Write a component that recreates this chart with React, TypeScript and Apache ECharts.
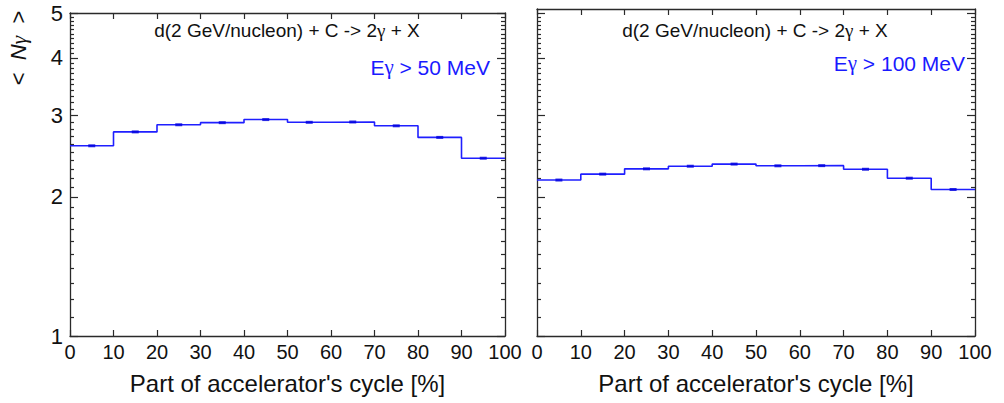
import React, { useEffect, useRef } from "react";
import * as echarts from "echarts";

// ---- data ----
const binEdges = [0, 10, 20, 30, 40, 50, 60, 70, 80, 90, 100];
const binCenters = [5, 15, 25, 35, 45, 55, 65, 75, 85, 95];
const nGammaE50 = [2.58, 2.765, 2.865, 2.895, 2.94, 2.9, 2.905, 2.85, 2.69, 2.425];
const nGammaE100 = [2.175, 2.24, 2.3, 2.33, 2.355, 2.335, 2.337, 2.295, 2.195, 2.075];
const xTickValues = [0, 10, 20, 30, 40, 50, 60, 70, 80, 90, 100];
const yMajorTicks = [1, 2, 3, 4, 5];
const yMinorTicks = [
  1.1, 1.2, 1.3, 1.4, 1.5, 1.6, 1.7, 1.8, 1.9,
  2.1, 2.2, 2.3, 2.4, 2.5, 2.6, 2.7, 2.8, 2.9,
  3.1, 3.2, 3.3, 3.4, 3.5, 3.6, 3.7, 3.8, 3.9,
  4.1, 4.2, 4.3, 4.4, 4.5, 4.6, 4.7, 4.8, 4.9,
];
// {g|γ} marks the Greek letter, drawn in a serif face as in the original
const panelTitles = ["d(2 GeV/nucleon) + C -> 2{g|γ} + X", "d(2 GeV/nucleon) + C -> 2{g|γ} + X"];
const panelCuts = ["E{g|γ} > 50 MeV", "E{g|γ} > 100 MeV"];
const xAxisTitle = "Part of accelerator's cycle [%]";
const yMin = 1;
const yMaxes = [5, 5.1];

const AXIS_COLOR = "#2a2a2a";
const LINE_COLOR = "#1f1fff";
const FONT = "'Liberation Sans', Arial, sans-serif";
const SERIF = "'Liberation Serif', 'DejaVu Serif', serif";

const lg = (v: number) => Math.log10(v);

export default function App() {
  const ref = useRef<HTMLDivElement>(null);
  useEffect(() => {
    if (!ref.current) return;
    const chart = echarts.init(ref.current, undefined, { renderer: "svg" });

    const grids = [
      { left: 70, top: 13, width: 435, height: 323 },
      { left: 537, top: 9, width: 438, height: 327 },
    ];
    const datasets = [nGammaE50, nGammaE100];

    const xAxes: any[] = [];
    const yAxes: any[] = [];
    const series: any[] = [];

    grids.forEach((g, gi) => {
      const baseX = {
        type: "value",
        gridIndex: gi,
        min: 0,
        max: 100,
        interval: 10,
        splitLine: { show: false },
        axisLine: { show: true, onZero: false, lineStyle: { color: AXIS_COLOR, width: 1.3 } },
        axisTick: { show: true, inside: true, length: 6, lineStyle: { color: AXIS_COLOR, width: 1.2 } },
      };
      xAxes.push({
        ...baseX,
        position: "bottom",
        axisLabel: {
          show: true,
          fontSize: 20,
          color: "#111",
          fontFamily: FONT,
          margin: 6,
          customValues: xTickValues,
        },
      });
      xAxes.push({ ...baseX, position: "top", axisLabel: { show: false } });

      const yMaxL = lg(yMaxes[gi]);
      const mkY = (pos: string, major: boolean, labels: boolean) => ({
        type: "value",
        gridIndex: gi,
        position: pos,
        min: lg(yMin),
        max: yMaxL,
        splitLine: { show: false },
        axisLine: { show: major, onZero: false, lineStyle: { color: AXIS_COLOR, width: 1.3 } },
        axisTick: {
          show: true,
          inside: true,
          length: major ? 8 : 4,
          customValues: (major ? yMajorTicks : yMinorTicks).map(lg),
          lineStyle: { color: AXIS_COLOR, width: 1.2 },
        },
        axisLabel: {
          show: labels,
          fontSize: 22,
          color: "#111",
          fontFamily: FONT,
          margin: 7,
          customValues: yMajorTicks.map(lg),
          formatter: (v: number) => String(Math.round(Math.pow(10, v))),
        },
      });
      yAxes.push(mkY("left", true, gi === 0));
      yAxes.push(mkY("left", false, false));
      yAxes.push(mkY("right", true, false));
      yAxes.push(mkY("right", false, false));

      const vals = datasets[gi];
      series.push({
        type: "line",
        xAxisIndex: gi * 2,
        yAxisIndex: gi * 4,
        step: "end",
        symbol: "none",
        lineStyle: { color: LINE_COLOR, width: 1.6 },
        data: binEdges.map((x, i) => [x, lg(vals[Math.min(i, vals.length - 1)])]),
        z: 3,
      });
      series.push({
        type: "scatter",
        xAxisIndex: gi * 2,
        yAxisIndex: gi * 4,
        symbol: "rect",
        symbolSize: [7, 3],
        itemStyle: { color: "#0000dd" },
        data: binCenters.map((x, i) => [x, lg(vals[i])]),
        z: 4,
      });
    });

    const graphic: any[] = [
      {
        type: "text",
        x: 18,
        y: 48,
        rotation: Math.PI / 2,
        style: {
          text: "<  {i|N}{j|γ}  >",
          fontSize: 22,
          fontFamily: FONT,
          fill: "#111",
          align: "center",
          verticalAlign: "middle",
          rich: {
            i: { fontStyle: "italic", fontSize: 22, fontFamily: FONT, fill: "#111" },
            j: { fontStyle: "italic", fontSize: 22, fontFamily: SERIF, fill: "#111" },
          },
        },
      },
    ];
    const titleCx = [287, 755];
    const cutRight = [490, 965];
    const cutY = [67, 63];
    grids.forEach((g, gi) => {
      graphic.push({
        type: "text",
        x: g.left + g.width / 2,
        y: 383,
        style: {
          text: xAxisTitle,
          fontSize: 24,
          fontFamily: FONT,
          fill: "#111",
          align: "center",
          verticalAlign: "middle",
        },
      });
      graphic.push({
        type: "text",
        x: titleCx[gi],
        y: 30,
        style: {
          text: panelTitles[gi],
          fontSize: 19,
          fontFamily: FONT,
          fill: "#111",
          align: "center",
          verticalAlign: "middle",
          rich: { g: { fontSize: 19, fontFamily: SERIF, fill: "#111" } },
        },
      });
      graphic.push({
        type: "text",
        x: cutRight[gi],
        y: cutY[gi],
        style: {
          text: panelCuts[gi],
          fontSize: 21,
          fontFamily: FONT,
          fill: "#1a1aff",
          align: "right",
          verticalAlign: "middle",
          rich: { g: { fontSize: 21, fontFamily: SERIF, fill: "#1a1aff" } },
        },
      });
    });

    chart.setOption({
      animation: false,
      backgroundColor: "#ffffff",
      grid: grids.map((g) => ({ ...g, containLabel: false })),
      xAxis: xAxes,
      yAxis: yAxes,
      series,
      graphic,
    });

    return () => chart.dispose();
  }, []);

  return (
    <div
      ref={ref}
      style={{ position: "fixed", left: 0, top: 0, width: 1004, height: 403, background: "#fff" }}
    />
  );
}
